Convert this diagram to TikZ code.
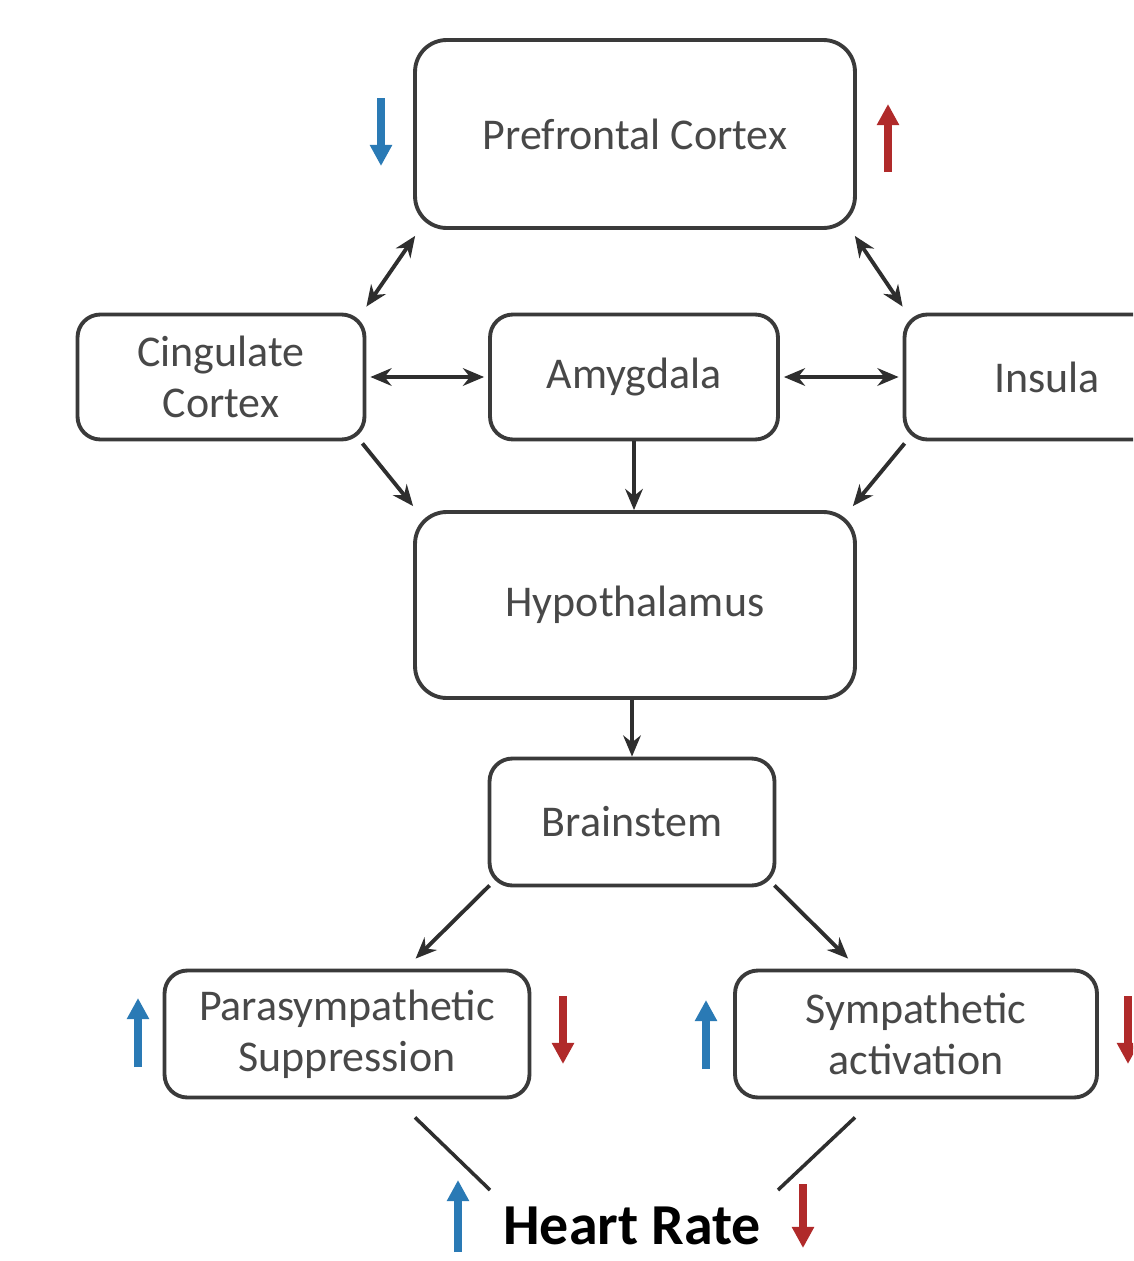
\documentclass[tikz,border=0pt]{standalone}
\usepackage{fontspec}
\setmainfont{Carlito}
\usetikzlibrary{arrows.meta}
\definecolor{boxc}{HTML}{3A3A3A}
\definecolor{txtc}{HTML}{484848}
\definecolor{arrc}{HTML}{2E2E2E}
\definecolor{upblue}{HTML}{2A7AB5}
\definecolor{dnred}{HTML}{B02A2A}
\begin{document}
\begin{tikzpicture}[x=0.02cm,y=-0.02cm,
  basebox/.style={draw=boxc, line width=2.2pt, fill=white, text=txtc,
    font=\fontsize{25}{29}\selectfont, align=center, inner sep=0pt},
  bigbox/.style={basebox, rounded corners=18pt},
  smallbox/.style={basebox, rounded corners=13pt},
  conn/.style={draw=arrc, line width=2.2pt, -{Stealth[length=12pt,width=10pt]}},
  dbl/.style={draw=arrc, line width=2.2pt, {Stealth[length=12pt,width=10pt]}-{Stealth[length=12pt,width=10pt]}},
  plain/.style={draw=arrc, line width=2pt},
  ind/.style={line width=4.5pt, -{Triangle[length=12pt,width=12pt]}},
  blueind/.style={ind, draw=upblue},
  redind/.style={ind, draw=dnred}]
\useasboundingbox (0,0) rectangle (1133,1261);
\clip (0,0) rectangle (1133,1261);
\fill[white] (0,0) rectangle (1133,1261);

% boxes
\node[bigbox, minimum width=8.8cm, minimum height=3.76cm] (pfc) at (635,134) {Prefrontal Cortex};
\node[smallbox, minimum width=5.74cm, minimum height=2.5cm] (cing) at (221,377) {Cingulate\\Cortex};
\node[smallbox, minimum width=5.76cm, minimum height=2.5cm] (amy) at (634,377) {Amygdala};
\node[smallbox, minimum width=5.7cm, minimum height=2.5cm] (ins) at (1047,377) {Insula};
\node[bigbox, minimum width=8.8cm, minimum height=3.72cm] (hyp) at (635,605) {Hypothalamus};
\node[smallbox, minimum width=5.7cm, minimum height=2.54cm] (bs) at (632,822) {Brainstem};
\node[smallbox, minimum width=7.3cm, minimum height=2.54cm] (para) at (347,1034) {Parasympathetic\\Suppression};
\node[smallbox, minimum width=7.24cm, minimum height=2.54cm] (symp) at (916,1034) {Sympathetic\\activation};
\node[font=\fontsize{33}{36}\selectfont\bfseries, text=black, inner sep=0pt] (hr) at (632,1226) {Heart Rate};

% connectors
\draw[dbl] ([shift={(2,6)}]pfc.south west) -- ([shift={(0,-6)}]cing.north east);
\draw[dbl] ([shift={(-2,6)}]pfc.south east) -- ([shift={(0,-6)}]ins.north west);
\draw[dbl] ([shift={(4,0)}]cing.east) -- ([shift={(-4,0)}]amy.west);
\draw[dbl] ([shift={(4,0)}]amy.east) -- ([shift={(-4,0)}]ins.west);
\draw[conn] (amy.south) -- (amy.south |- hyp.north);
\draw[conn] ([shift={(-4,2)}]cing.south east) -- ([shift={(0,-4)}]hyp.north west);
\draw[conn] ([shift={(2,2)}]ins.south west) -- ([shift={(-4,-4)}]hyp.north east);
\draw[conn] (hyp.south -| bs.north) -- (bs.north);
\draw[conn] ([shift={(2,-2)}]bs.south west) -- ([shift={(253,-10)}]para.north west);
\draw[conn] ([shift={(-2,-2)}]bs.south east) -- ([shift={(115,-10)}]symp.north west);
\draw[plain] ([shift={(68,18)}]para.south) -- ([shift={(-142,-36)}]hr.center);
\draw[plain] ([shift={(-61,18)}]symp.south) -- ([shift={(146,-36)}]hr.center);

% indicator arrows
\draw[blueind] (381,98) -- (381,166);
\draw[redind] (888,172) -- (888,104);
\draw[blueind] (138,1067) -- (138,998);
\draw[redind] (563,996) -- (563,1064);
\draw[blueind] (706,1069) -- (706,1000);
\draw[redind] (1128,996) -- (1128,1064);
\draw[blueind] (458,1252) -- (458,1180);
\draw[redind] (803,1184) -- (803,1248);
\end{tikzpicture}
\end{document}
